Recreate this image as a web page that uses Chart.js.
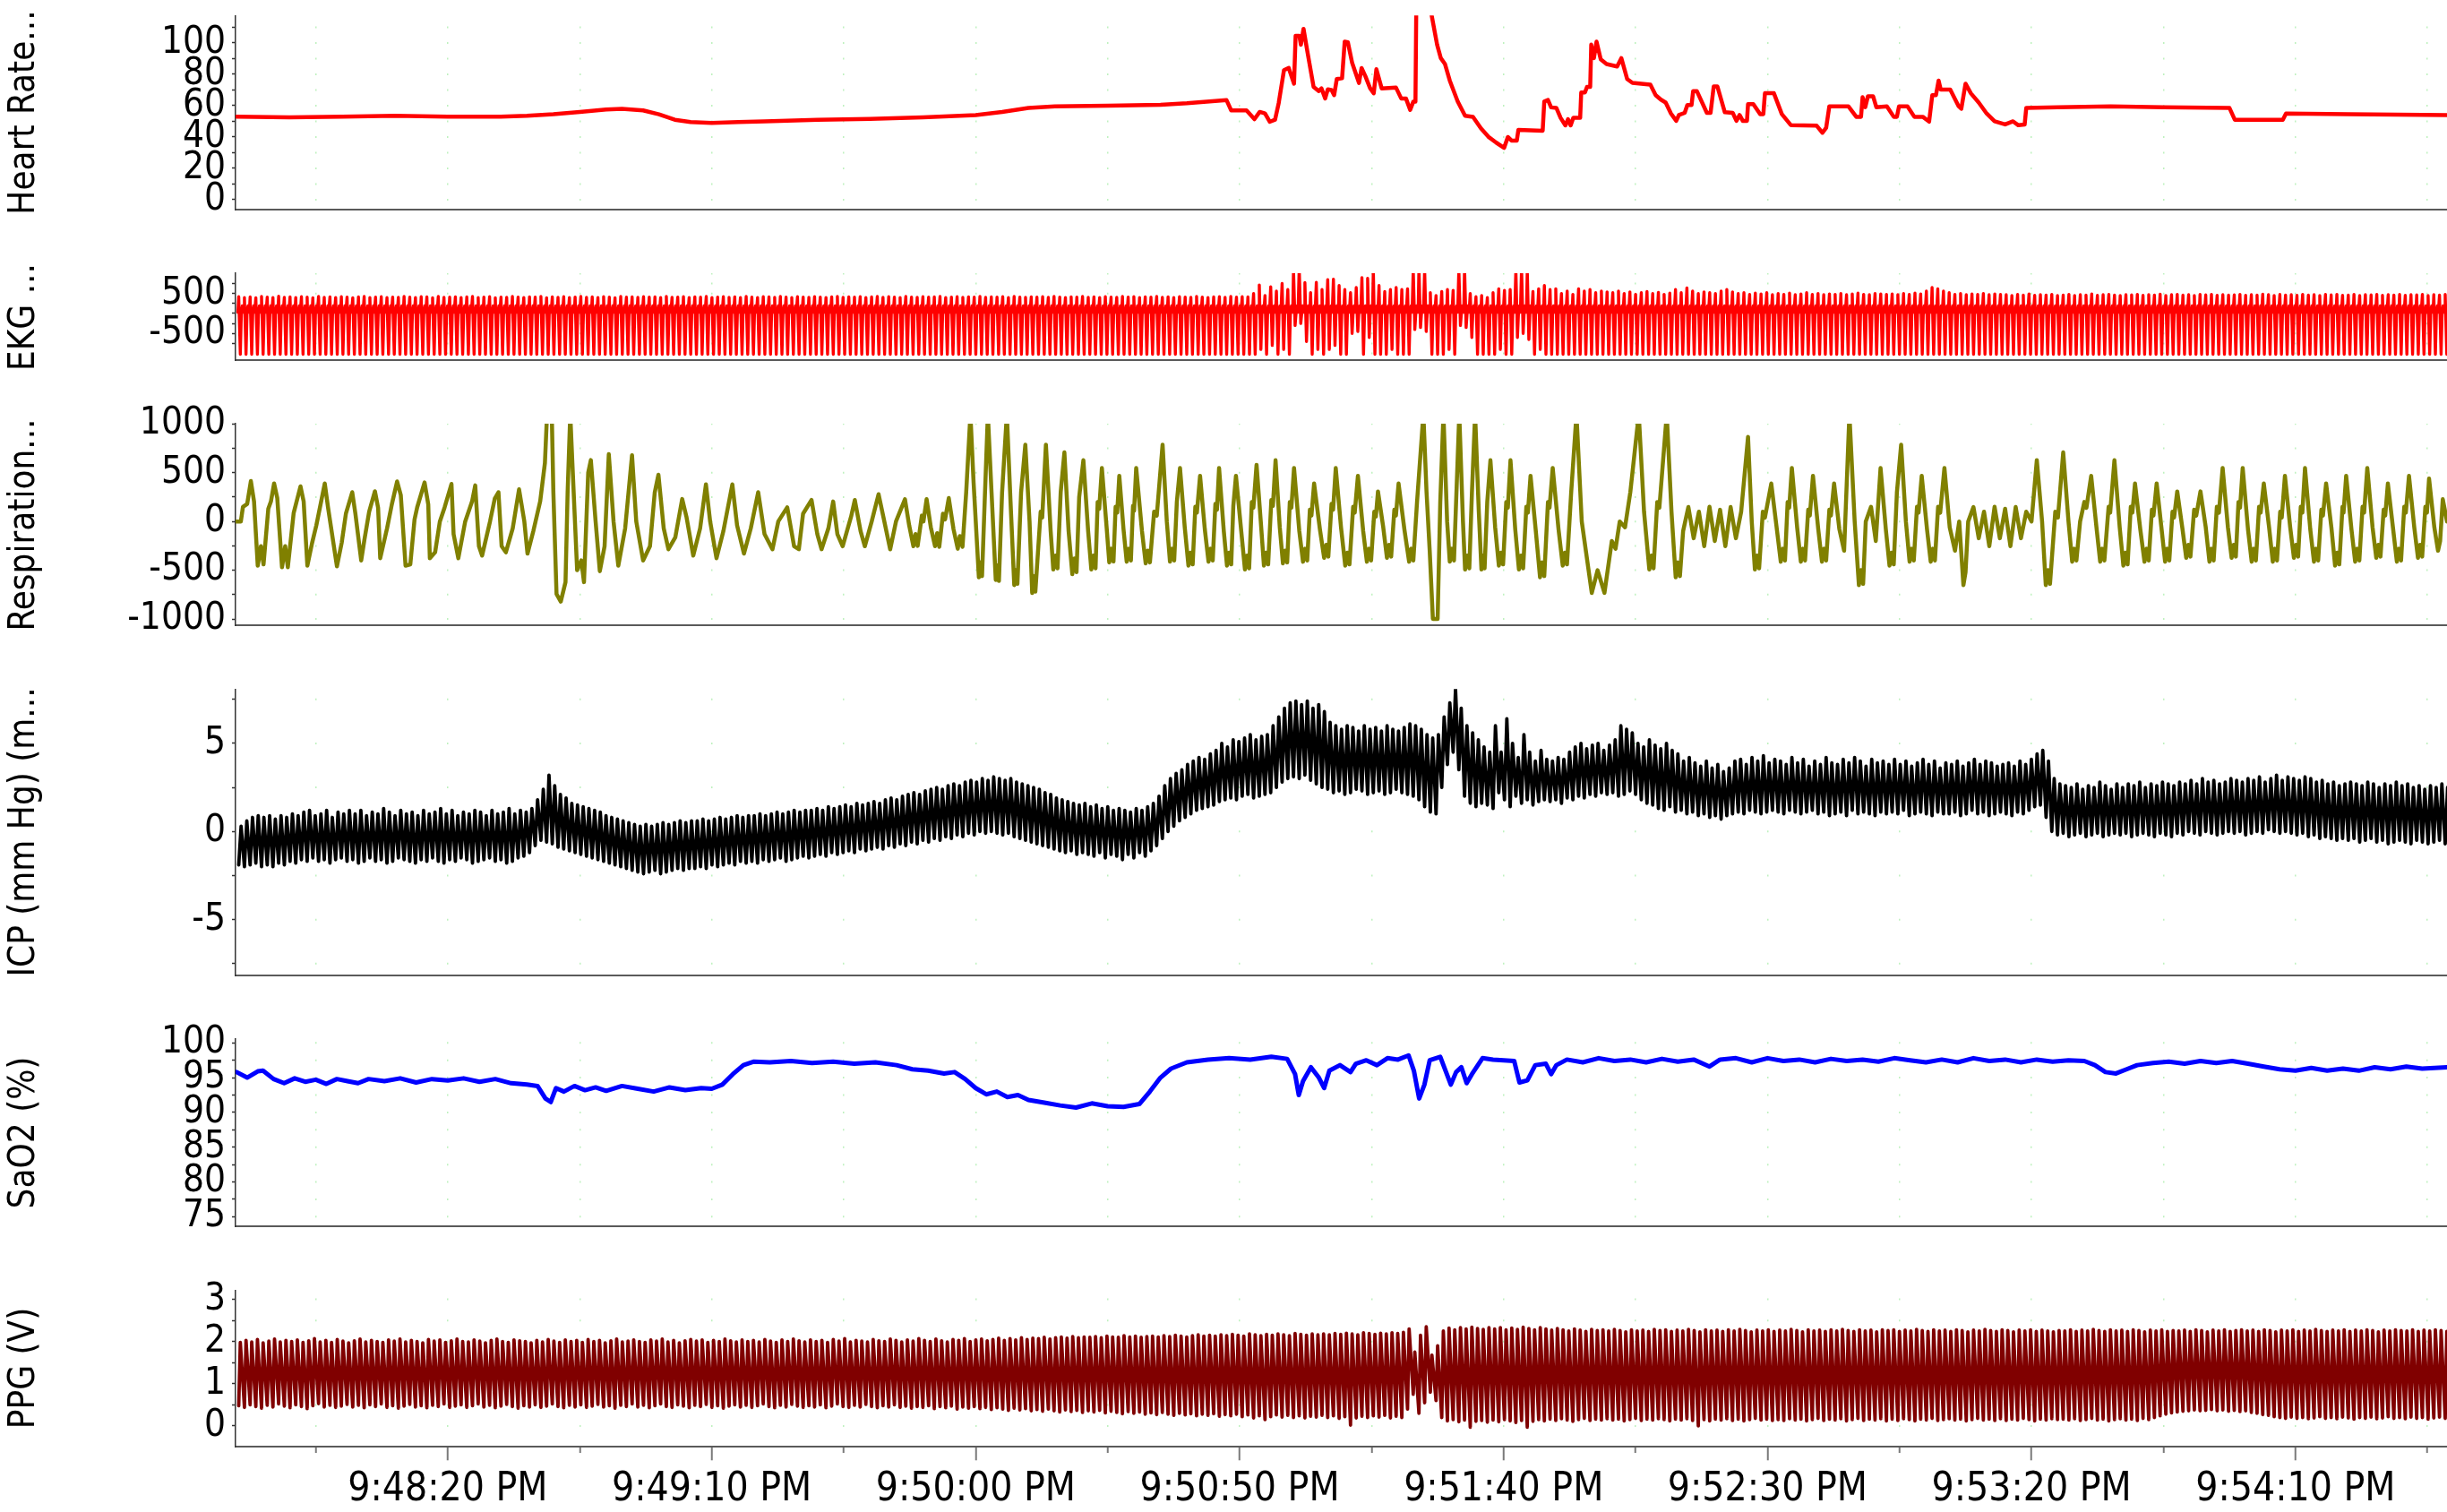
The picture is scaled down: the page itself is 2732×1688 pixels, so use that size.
<!DOCTYPE html>
<html>
<head>
<meta charset="utf-8">
<title>Physiological signals</title>
<script src="https://cdn.jsdelivr.net/npm/chart.js@4.4.1/dist/chart.umd.min.js"></script>
<style>
html, body { margin:0; padding:0; background:#ffffff; }
body { position:relative; width:2732px; height:1688px; overflow:hidden; }
canvas { position:absolute; left:0; }
</style>
</head>
<body>
<script>
// ---------- time axis (seconds after 9:47:40 PM) ----------
const timeLabels = ['9:48:20 PM','9:49:10 PM','9:50:00 PM','9:50:50 PM','9:51:40 PM','9:52:30 PM','9:53:20 PM','9:54:10 PM'];
const majorSeconds = [40, 90, 140, 190, 240, 290, 340, 390];
const minorSeconds = [15, 65, 115, 165, 215, 265, 315, 365, 415];

// ---------- y tick values ----------
const hrMajor = [0, 20, 40, 60, 80, 100], hrMinor = [10, 30, 50, 70, 90, 110];
const ekgMajor = [-500, 500], ekgMinor = [-750, -250, 0, 250, 750];
const respMajor = [-1000, -500, 0, 500, 1000], respMinor = [-750, -250, 250, 750];
const icpMajor = [-5, 0, 5], icpMinor = [-7.5, -2.5, 2.5, 7.5];
const saoMajor = [75, 80, 85, 90, 95, 100], saoMinor = [77.5, 82.5, 87.5, 92.5, 97.5];
const ppgMajor = [0, 1, 2, 3], ppgMinor = [0.5, 1.5, 2.5];

// ---------- Heart rate [s, bpm] ----------
const heartRate = [[0,53],[10,52.5],[20,53],[30,53.5],[40,53],[50,53],[55,53.5],[60,54.5],[65,56],[70,57.5],[73,58],[77,57],[80,54.5],[83,51],[86,49.5],[90,49],[95,49.5],[100,50],[110,51],[120,51.5],[130,52.5],[140,54],[145,56],[150,58.5],[155,59.5],[165,60],[175,60.5],[180,61.5],[187.5,63.6],[188.4,57],[191.3,57],[192.8,51.4],[193.8,56],[194.8,55],[195.7,49.7],[196.7,51],[197.4,61.7],[198.4,82.7],[199.3,84],[200.3,74],[200.6,104.6],[201.3,104.6],[201.6,98.9],[202.1,109],[202.8,95],[204.0,72],[205.0,69.3],[205.5,71],[206.2,64.6],[206.7,70.4],[207.4,70],[207.9,66.7],[208.4,77],[209.4,77.5],[209.9,100.8],[210.5,100.4],[211.3,87.4],[212.6,74.5],[213.1,84],[213.8,78.9],[214.7,71.2],[215.4,67.9],[215.9,83.2],[216.9,71],[219.6,71.6],[220.6,64.6],[221.5,64.6],[222.3,57.3],[222.9,62.6],[223.3,62.6],[223.5,140],[226.0,125],[226.4,117],[227.4,98.9],[228.1,90.3],[228.9,86.5],[229.8,76],[231.3,62.7],[232.7,53.5],[234.2,52.8],[235.7,45.5],[237.1,40.2],[238.6,36.4],[240.1,33.1],[240.8,40],[241.5,37.7],[242.5,37.7],[242.8,44.6],[247.4,44],[247.7,62.6],[248.4,63.6],[249.0,58.9],[250.0,58.5],[250.8,52.2],[251.7,47.4],[252.2,51.4],[252.7,47.4],[253.2,52.2],[254.5,52.2],[254.7,68.4],[255.4,68.4],[255.8,72],[256.4,72],[256.6,98.9],[257.1,90.3],[257.6,100.8],[258.4,89.5],[259.5,86.5],[261.5,85],[262.3,90.3],[263.4,77],[264.4,74.5],[267.8,73.4],[268.8,66.7],[269.8,63.8],[270.7,62],[271.7,55],[272.7,50.3],[273.2,54],[274.3,55.4],[274.8,60.4],[275.6,60.4],[275.9,69.3],[276.6,69.3],[278.5,55.4],[279.2,55.4],[279.8,72.2],[280.5,72.2],[281.9,55.8],[283.4,55.4],[284.1,50.3],[284.7,54],[285.3,50.3],[286.1,50.3],[286.3,61],[287.3,61],[288.6,54.6],[289.2,54.6],[289.5,67.9],[291.2,67.9],[292.7,54.6],[294.4,47.6],[299.3,47.2],[300.4,42.7],[301.1,45.9],[301.7,59.6],[305.3,59.6],[306.8,52.9],[307.7,52.9],[308.0,65.4],[308.5,59],[309.0,65.9],[310.0,65.9],[310.6,59],[312.6,59.6],[313.9,52.9],[314.5,52.9],[314.9,59.6],[316.5,59.6],[317.8,52.9],[319.4,52.9],[320.6,49.8],[321.2,66.7],[321.9,66.7],[322.4,76],[322.8,70.2],[324.6,70.2],[326.2,59.6],[326.7,58],[327.5,74],[328.5,67.9],[330,62],[331.5,55],[333,50],[335,48],[336.5,50],[337.5,47.5],[338.7,48],[339,58.5],[345,59],[355,59.5],[365,59],[377.5,58.5],[378.5,51],[387.6,51],[388.2,55],[400,54.5],[418.7,54]];

// ---------- per-beat values (beats evenly spaced) ----------
const beatStart = 0.4, beatStep = 1.08;
const ekgBaseline = 30, ekgTWave = 190;
const ekgR = [
420,400,415,395,425,410,400,430,405,415, 400,420,410,395,425,405,415,400,420,410,
395,415,425,400,410,420,398,412,405,425, 410,400,420,415,395,425,405,410,418,400,
415,425,400,410,420,395,412,405,425,410, 400,418,410,425,395,415,405,420,400,412,
425,405,415,400,420,410,395,425,408,415, 402,420,410,415,398,425,405,412,420,400,
415,408,425,400,412,420,405,418,398,425, 410,400,420,415,405,425,410,398,420,412,
405,422,410,400,418,425,402,415,410,420, 398,415,425,405,420,410,400,425,412,405,
420,408,415,425,400,412,420,405,418,410, 425,402,415,410,420,398,425,410,405,418,
410,420,405,425,412,400,418,410,425,405, 415,400,422,410,405,425,412,420,400,415,
410,425,405,418,400,420,412,405,425,410, 400,415,420,405,425,410,420,415,500,715,
450,670,560,750,600,1100,1150,775,520,780, 600,850,860,700,600,520,650,900,880,1100,
700,550,600,650,600,620,1100,1150,1100,520, 450,550,600,580,1100,1150,500,420,450,400,
520,620,580,600,1100,1150,1100,550,620,700, 600,620,500,560,480,620,560,600,520,560,
540,520,560,500,540,480,520,550,500,530, 480,510,600,520,640,560,500,540,520,500,
560,600,540,500,520,480,510,490,520,470, 500,480,510,470,490,520,480,500,470,490,
480,500,470,490,510,480,470,500,490,480, 490,470,500,480,510,490,560,650,620,560,
520,480,500,470,490,480,500,470,490,480, 470,450,480,460,490,455,470,460,480,450,
460,480,450,470,460,490,455,470,480,460, 450,470,465,480,455,470,460,485,450,470,
480,460,470,450,475,465,480,455,470,460, 465,480,455,470,460,485,470,450,475,460,
470,455,480,460,470,450,475,465,480,455, 460,475,450,470,465,480,455,470,460,475,
455,470,465,480,450,470,460,475];
const ekgS = [
-1020,-1020,-1020,-1020,-1020,-1020,-1020,-1020,-1020,-1020, -1020,-1020,-1020,-1020,-1020,-1020,-1020,-1020,-1020,-1020,
-1020,-1020,-1020,-1020,-1020,-1020,-1020,-1020,-1020,-1020, -1020,-1020,-1020,-1020,-1020,-1020,-1020,-1020,-1020,-1020,
-1020,-1020,-1020,-1020,-1020,-1020,-1020,-1020,-1020,-1020, -1020,-1020,-1020,-1020,-1020,-1020,-1020,-1020,-1020,-1020,
-1020,-1020,-1020,-1020,-1020,-1020,-1020,-1020,-1020,-1020, -1020,-1020,-1020,-1020,-1020,-1020,-1020,-1020,-1020,-1020,
-1020,-1020,-1020,-1020,-1020,-1020,-1020,-1020,-1020,-1020, -1020,-1020,-1020,-1020,-1020,-1020,-1020,-1020,-1020,-1020,
-1020,-1020,-1020,-1020,-1020,-1020,-1020,-1020,-1020,-1020, -1020,-1020,-1020,-1020,-1020,-1020,-1020,-1020,-1020,-1020,
-1020,-1020,-1020,-1020,-1020,-1020,-1020,-1020,-1020,-1020, -1020,-1020,-1020,-1020,-1020,-1020,-1020,-1020,-1020,-1020,
-1020,-1020,-1020,-1020,-1020,-1020,-1020,-1020,-1020,-1020, -1020,-1020,-1020,-1020,-1020,-1020,-1020,-1020,-1020,-1020,
-1020,-1020,-1020,-1020,-1020,-1020,-1020,-1020,-1020,-1020, -1020,-1020,-1020,-1020,-1020,-1020,-1020,-1020,-1020,-900,
-1020,-800,-1020,-900,-1020,-300,-250,-700,-1020,-900, -1020,-900,-800,-1020,-1020,-500,-450,-1020,-600,-1020,
-1020,-1020,-900,-1020,-1020,-1020,-400,-350,-450,-1020, -1020,-1020,-900,-1020,-300,-350,-600,-1020,-1020,-1020,
-1020,-900,-1020,-1020,-600,-500,-650,-1020,-900,-1020, -1020,-1020,-1020,-1020,-1020,-1020,-1020,-1020,-1020,-1020,
-1020,-1020,-1020,-1020,-1020,-1020,-1020,-1020,-1020,-1020, -1020,-1020,-1020,-1020,-1020,-1020,-1020,-1020,-1020,-1020,
-1020,-1020,-1020,-1020,-1020,-1020,-1020,-1020,-1020,-1020, -1020,-1020,-1020,-1020,-1020,-1020,-1020,-1020,-1020,-1020,
-1020,-1020,-1020,-1020,-1020,-1020,-1020,-1020,-1020,-1020, -1020,-1020,-1020,-1020,-1020,-1020,-1020,-1020,-1020,-1020,
-1020,-1020,-1020,-1020,-1020,-1020,-1020,-1020,-1020,-1020, -1020,-1020,-1020,-1020,-1020,-1020,-1020,-1020,-1020,-1020,
-1020,-1020,-1020,-1020,-1020,-1020,-1020,-1020,-1020,-1020, -1020,-1020,-1020,-1020,-1020,-1020,-1020,-1020,-1020,-1020,
-1020,-1020,-1020,-1020,-1020,-1020,-1020,-1020,-1020,-1020, -1020,-1020,-1020,-1020,-1020,-1020,-1020,-1020,-1020,-1020,
-1020,-1020,-1020,-1020,-1020,-1020,-1020,-1020,-1020,-1020, -1020,-1020,-1020,-1020,-1020,-1020,-1020,-1020,-1020,-1020,
-1020,-1020,-1020,-1020,-1020,-1020,-1020,-1020];

const icpMax = [
0.3,0.6,0.8,0.9,0.8,0.9,0.7,0.9,0.8,1.0, 0.9,1.1,1.2,0.9,1.0,1.2,0.8,1.1,1.0,1.2,
1.0,1.2,0.9,1.1,1.0,1.3,1.1,0.9,1.2,1.0, 1.1,0.9,1.2,1.0,1.1,1.3,1.0,1.2,0.9,1.1,
1.0,1.2,1.1,0.9,1.2,1.0,1.1,1.3,1.0,1.2, 1.1,1.3,1.8,2.4,3.2,2.6,2.1,1.9,1.6,1.5,
1.4,1.3,1.2,1.1,0.9,0.8,0.7,0.6,0.5,0.4, 0.3,0.4,0.3,0.4,0.5,0.4,0.5,0.6,0.5,0.6,
0.6,0.7,0.6,0.7,0.8,0.7,0.8,0.9,0.8,0.9, 0.9,1.0,0.9,1.0,1.1,1.0,1.1,1.2,1.1,1.2,
1.2,1.3,1.2,1.4,1.3,1.4,1.5,1.4,1.6,1.5, 1.6,1.7,1.6,1.8,1.9,1.8,2.0,2.1,2.2,2.1,
2.3,2.4,2.5,2.4,2.6,2.7,2.6,2.8,2.9,2.8, 3.0,2.9,3.1,3.0,2.9,3.0,2.8,2.7,2.6,2.5,
2.4,2.2,2.1,1.9,1.8,1.7,1.6,1.5,1.6,1.4, 1.5,1.3,1.4,1.2,1.3,1.2,1.1,1.3,1.2,1.4,
1.6,2.0,2.6,3.0,3.3,3.5,3.8,4.0,4.2,4.1, 4.4,4.6,5.0,4.8,5.2,5.1,5.3,5.5,5.2,5.4,
5.5,6.0,6.5,7.0,7.3,7.4,7.2,7.4,7.0,7.2, 6.8,6.2,6.0,5.8,6.0,5.9,5.7,6.0,5.8,5.9,
5.7,6.0,5.8,5.7,5.9,6.1,6.0,5.8,5.5,5.3, 5.5,6.5,7.3,8.1,7.0,6.0,5.6,5.2,4.8,4.5,
6.0,4.5,6.4,5.0,4.2,5.5,4.5,4.0,4.6,4.1, 4.0,4.2,4.1,4.5,4.8,5.0,4.7,4.9,5.0,4.6,
4.9,5.2,6.0,5.8,5.6,5.0,4.8,5.2,4.9,4.7, 5.0,4.6,4.4,4.0,4.2,3.9,3.7,4.0,3.6,3.8,
3.4,3.6,4.0,4.1,3.8,4.2,4.0,4.3,3.9,4.1, 4.0,3.8,4.2,3.9,4.1,3.7,4.0,3.8,4.2,3.9,
3.8,4.1,3.9,4.2,4.0,3.7,4.1,3.9,4.0,3.8, 4.1,3.8,4.0,3.7,3.9,4.1,3.8,4.0,3.6,3.9,
3.8,4.0,3.7,3.9,4.1,3.8,4.0,3.9,3.7,3.8, 3.9,3.7,4.0,3.8,4.1,4.4,4.6,4.0,3.0,2.7,
2.6,2.5,2.7,2.4,2.6,2.5,2.8,2.6,2.4,2.7, 2.5,2.7,2.6,2.8,2.5,2.7,2.6,2.8,2.7,2.6,
2.8,2.7,2.9,2.7,3.0,2.8,2.9,2.7,2.8,3.0, 2.9,2.8,3.0,2.9,3.1,2.8,3.0,3.2,2.9,3.1,
3.0,2.9,3.1,3.0,2.8,2.9,2.7,2.8,2.6,2.7, 2.8,2.7,2.6,2.8,2.7,2.5,2.7,2.6,2.8,2.6,
2.7,2.5,2.6,2.4,2.6,2.5,2.7,2.5];
const icpMin = [
-1.9,-2.0,-1.9,-1.8,-2.0,-1.9,-2.0,-1.8,-1.9,-1.7, -1.8,-1.6,-1.7,-1.5,-1.7,-1.6,-1.8,-1.6,-1.5,-1.7,
-1.6,-1.8,-1.7,-1.5,-1.7,-1.6,-1.8,-1.7,-1.5,-1.6, -1.7,-1.8,-1.6,-1.7,-1.5,-1.7,-1.8,-1.6,-1.7,-1.5,
-1.6,-1.8,-1.7,-1.6,-1.5,-1.7,-1.6,-1.8,-1.7,-1.5, -1.4,-1.2,-0.8,-0.5,-0.6,-0.7,-0.9,-1.0,-1.1,-1.2,
-1.3,-1.4,-1.5,-1.6,-1.7,-1.8,-1.9,-2.0,-2.1,-2.2, -2.3,-2.4,-2.3,-2.2,-2.4,-2.3,-2.2,-2.1,-2.2,-2.1,
-2.1,-2.0,-2.1,-1.9,-2.0,-1.9,-1.8,-1.9,-1.7,-1.8, -1.7,-1.8,-1.6,-1.7,-1.6,-1.5,-1.7,-1.6,-1.5,-1.4,
-1.5,-1.4,-1.3,-1.4,-1.2,-1.3,-1.2,-1.1,-1.2,-1.0, -1.1,-1.0,-0.9,-1.0,-0.8,-0.9,-0.7,-0.8,-0.6,-0.7,
-0.5,-0.6,-0.4,-0.5,-0.3,-0.4,-0.2,-0.3,-0.1,-0.2, 0.0,-0.1,0.0,-0.1,-0.2,-0.1,-0.3,-0.4,-0.5,-0.6,
-0.7,-0.8,-0.9,-1.0,-1.1,-1.2,-1.1,-1.3,-1.2,-1.3, -1.4,-1.2,-1.5,-1.3,-1.4,-1.6,-1.3,-1.5,-1.2,-1.4,
-1.1,-0.8,-0.4,0.0,0.3,0.6,0.8,1.0,1.2,1.3, 1.4,1.5,1.7,1.8,1.9,1.8,2.0,2.1,1.9,2.0,
2.1,2.2,2.5,2.8,3.0,3.1,3.0,3.2,2.9,2.7, 2.5,2.4,2.2,2.3,2.1,2.2,2.4,2.3,2.1,2.2,
2.3,2.1,2.2,2.4,2.2,2.1,2.0,1.8,1.4,1.1, 1.0,2.5,3.8,4.5,3.5,2.0,1.6,1.4,1.6,1.5,
1.3,2.2,1.8,1.4,2.0,1.6,1.8,1.5,1.7,1.8, 1.7,1.8,1.6,1.9,1.8,2.0,1.9,2.1,2.0,2.2,
2.1,2.2,2.0,2.1,2.3,2.1,1.8,1.6,1.5,1.3, 1.2,1.4,1.1,1.2,1.0,1.1,0.9,1.0,0.8,0.9,
0.7,0.9,1.0,1.1,1.0,1.2,1.1,1.0,1.1,1.2, 1.1,1.0,1.2,1.1,1.0,1.1,1.2,1.0,1.1,0.9,
1.0,1.1,0.9,1.2,1.0,1.1,1.0,0.9,1.1,1.0, 1.1,1.0,1.2,0.9,1.0,1.1,1.0,0.9,1.1,1.0,
1.0,1.1,0.9,1.0,1.2,1.0,1.1,0.9,1.0,1.1, 1.0,0.9,1.1,1.0,1.2,1.4,1.5,0.8,0.0,-0.2,
-0.1,-0.3,-0.2,-0.1,-0.3,-0.2,-0.1,-0.3,-0.2,-0.1, -0.2,-0.1,-0.3,-0.2,-0.1,-0.2,-0.3,-0.1,-0.2,-0.3,
-0.1,-0.2,0.0,-0.1,-0.2,0.0,-0.1,-0.2,-0.1,0.0, -0.1,0.0,-0.2,-0.1,0.0,-0.1,0.1,0.0,-0.1,0.0,
-0.1,-0.2,-0.1,-0.3,-0.2,-0.4,-0.3,-0.4,-0.5,-0.4, -0.5,-0.4,-0.6,-0.5,-0.4,-0.6,-0.5,-0.7,-0.6,-0.5,
-0.6,-0.7,-0.5,-0.6,-0.7,-0.6,-0.5,-0.7];

const ppgMax = [
1.98,2.03,1.99,2.05,1.97,2.01,2.06,1.99,2.03,2.00, 2.04,1.98,2.02,2.07,1.99,2.03,1.98,2.05,2.01,1.97,
2.02,2.06,1.99,2.03,2.00,1.98,2.04,2.01,2.06,1.99, 2.03,2.00,1.97,2.05,2.01,2.04,1.98,2.02,2.06,2.00,
1.99,2.04,2.01,1.97,2.03,2.06,2.00,1.98,2.04,2.02, 2.00,1.97,2.03,1.99,2.05,2.01,1.98,2.04,2.00,2.03,
1.98,2.05,2.00,2.03,1.97,2.02,2.06,1.99,2.01,2.04, 2.00,1.98,2.04,2.01,2.06,1.99,2.03,1.97,2.02,2.05,
2.01,2.04,1.98,2.03,2.00,2.06,2.02,1.99,2.04,2.00, 2.03,1.99,2.05,2.01,1.98,2.04,2.00,2.06,2.02,1.99,
2.04,2.00,2.03,1.98,2.05,2.01,2.07,1.99,2.03,2.01, 1.99,2.05,2.02,2.00,2.06,2.03,1.99,2.04,2.01,2.07,
2.03,2.00,2.06,2.02,1.99,2.05,2.03,2.07,2.00,2.04, 2.06,2.02,2.05,2.08,2.03,2.07,2.04,2.09,2.05,2.08,
2.07,2.10,2.06,2.09,2.11,2.08,2.12,2.09,2.11,2.10, 2.12,2.09,2.13,2.11,2.10,2.14,2.11,2.13,2.10,2.12,
2.13,2.11,2.14,2.12,2.15,2.13,2.11,2.14,2.16,2.13, 2.15,2.13,2.16,2.14,2.17,2.15,2.13,2.18,2.16,2.14,
2.17,2.15,2.18,2.16,2.14,2.19,2.17,2.15,2.18,2.16, 2.18,2.16,2.19,2.17,2.20,2.18,2.16,2.21,2.19,2.17,
2.20,2.18,2.21,2.19,2.22,2.30,1.75,2.15,2.35,1.68, 1.90,2.25,2.32,2.28,2.33,2.30,2.34,2.31,2.29,2.33,
2.30,2.33,2.28,2.32,2.29,2.34,2.31,2.28,2.33,2.30, 2.27,2.31,2.28,2.25,2.30,2.27,2.24,2.29,2.26,2.28,
2.25,2.29,2.26,2.23,2.28,2.25,2.27,2.24,2.29,2.26, 2.28,2.24,2.27,2.25,2.29,2.26,2.23,2.28,2.25,2.27,
2.24,2.28,2.25,2.29,2.26,2.23,2.27,2.25,2.28,2.24, 2.27,2.25,2.29,2.26,2.23,2.28,2.25,2.27,2.24,2.28,
2.25,2.29,2.26,2.24,2.28,2.25,2.27,2.23,2.28,2.26, 2.28,2.24,2.27,2.25,2.29,2.26,2.24,2.28,2.25,2.27,
2.24,2.28,2.26,2.23,2.27,2.25,2.29,2.26,2.24,2.28, 2.26,2.23,2.27,2.25,2.28,2.24,2.27,2.25,2.23,2.26,
2.25,2.28,2.24,2.27,2.25,2.29,2.26,2.24,2.28,2.25, 2.27,2.24,2.28,2.26,2.23,2.27,2.25,2.28,2.24,2.26,
2.25,2.27,2.24,2.28,2.26,2.23,2.27,2.25,2.28,2.24, 2.26,2.28,2.25,2.27,2.24,2.28,2.26,2.23,2.27,2.25,
2.28,2.24,2.27,2.25,2.29,2.26,2.24,2.27,2.25,2.28, 2.24,2.27,2.25,2.28,2.26,2.23,2.27,2.25,2.28,2.26,
2.25,2.28,2.24,2.27,2.25,2.28,2.26,2.24];
const ppgMin = [
0.48,0.44,0.50,0.46,0.42,0.49,0.45,0.52,0.47,0.43, 0.50,0.46,0.41,0.48,0.53,0.45,0.49,0.44,0.47,0.51,
0.45,0.49,0.43,0.50,0.46,0.52,0.44,0.48,0.42,0.47, 0.51,0.45,0.48,0.43,0.49,0.46,0.52,0.44,0.47,0.50,
0.44,0.48,0.52,0.45,0.49,0.43,0.47,0.51,0.46,0.42, 0.48,0.45,0.50,0.44,0.47,0.52,0.46,0.43,0.49,0.45,
0.50,0.44,0.47,0.51,0.45,0.48,0.42,0.49,0.46,0.52, 0.45,0.49,0.43,0.48,0.52,0.46,0.44,0.50,0.47,0.43,
0.49,0.46,0.51,0.44,0.48,0.42,0.47,0.50,0.45,0.49, 0.44,0.48,0.52,0.46,0.43,0.49,0.45,0.51,0.47,0.44,
0.48,0.45,0.50,0.43,0.47,0.52,0.46,0.44,0.49,0.45, 0.51,0.46,0.43,0.48,0.45,0.50,0.44,0.47,0.42,0.46,
0.44,0.48,0.41,0.46,0.43,0.47,0.40,0.45,0.42,0.46, 0.41,0.44,0.39,0.43,0.40,0.37,0.42,0.38,0.41,0.36,
0.39,0.35,0.40,0.36,0.33,0.38,0.34,0.37,0.32,0.36, 0.33,0.37,0.31,0.35,0.32,0.29,0.34,0.30,0.33,0.28,
0.31,0.27,0.32,0.28,0.25,0.30,0.26,0.29,0.24,0.28, 0.25,0.29,0.23,0.27,0.24,0.28,0.22,0.26,0.19,0.24,
0.15,0.22,0.26,0.21,0.25,0.20,0.24,0.19,0.23,0.21, 0.25,0.20,0.24,0.18,0.22,0.02,0.19,0.23,0.20,0.24,
0.21,0.25,0.19,0.23,0.20,0.40,0.75,0.30,0.55,0.80, 0.60,0.20,0.12,0.15,0.10,0.14,-0.03,0.11,0.13,0.09,
0.14,0.10,0.15,0.12,0.08,0.13,-0.03,0.11,0.15,0.12, 0.16,0.13,0.17,0.14,0.11,0.15,0.18,0.13,0.16,0.14,
0.17,0.14,0.16,0.12,0.15,0.18,0.13,0.16,0.14,0.17, 0.15,0.12,0.16,0.14,0.17,0.13,0.00,0.15,0.12,0.16,
0.14,0.17,0.13,0.16,0.12,0.15,0.18,0.14,0.16,0.13, 0.15,0.13,0.17,0.14,0.16,0.12,0.15,0.18,0.13,0.16,
0.14,0.17,0.12,0.15,0.18,0.13,0.16,0.14,0.17,0.12, 0.16,0.13,0.17,0.15,0.12,0.16,0.14,0.18,0.13,0.15,
0.17,0.14,0.16,0.12,0.15,0.18,0.14,0.16,0.13,0.17, 0.13,0.16,0.14,0.18,0.15,0.12,0.16,0.14,0.17,0.15,
0.16,0.14,0.17,0.13,0.15,0.18,0.14,0.16,0.12,0.15, 0.17,0.14,0.16,0.13,0.18,0.15,0.20,0.24,0.28,0.31,
0.33,0.35,0.36,0.38,0.36,0.37,0.39,0.36,0.38,0.35, 0.37,0.34,0.36,0.32,0.30,0.27,0.25,0.22,0.20,0.18,
0.21,0.18,0.20,0.17,0.19,0.22,0.18,0.20,0.17,0.21, 0.19,0.16,0.20,0.18,0.21,0.17,0.19,0.22,0.18,0.20,
0.17,0.21,0.18,0.20,0.16,0.19,0.21,0.18];

// ---------- Respiration [s, value] ----------
const respiration = [[0,0],[0.8,0],[1.2,150],[2.0,180],[2.7,415],[3.3,205],[4.0,-454],[4.6,-254],[5.1,-440],[6.0,130],[6.5,205],[7.1,390],[7.7,240],[8.6,-470],[9.2,-254],[9.7,-470],[10.8,85],[12.1,360],[12.7,205],[13.4,-454],[14.3,-220],[15.1,-40],[16.7,390],[17.3,150],[19.0,-460],[19.9,-220],[20.7,80],[21.9,300],[22.5,80],[23.6,-400],[24.2,-190],[25.1,100],[26.2,310],[26.8,140],[27.2,-377],[28.5,-70],[29.4,175],[30.4,410],[31.1,270],[32.0,-454],[32.9,-440],[33.7,20],[34.2,144],[35.6,400],[36.3,175],[36.6,-377],[37.6,-316],[38.5,0],[39.4,144],[40.7,385],[41.1,-130],[42.0,-377],[43.3,0],[44.6,205],[45.2,370],[45.9,-254],[46.5,-350],[48.0,0],[48.9,235],[49.6,300],[50.2,-254],[51.0,-316],[52.3,-70],[53.5,330],[54.5,0],[55.1,-330],[56.2,-100],[57.5,205],[58.4,600],[58.8,1100],[59.7,1100],[60.0,300],[60.6,-745],[61.4,-822],[62.3,-622],[62.7,300],[63.2,1100],[63.6,600],[64.5,-500],[65.3,-400],[65.8,-622],[66.6,500],[67.1,630],[68.0,0],[68.8,-510],[69.7,-254],[70.5,690],[71.4,0],[72.3,-454],[73.6,-70],[74.9,680],[75.7,0],[77.0,-400],[78.3,-254],[79.2,297],[79.9,480],[80.9,-70],[81.8,-285],[83.1,-163],[84.4,230],[85.2,50],[86.5,-350],[87.8,-70],[88.9,380],[89.7,0],[90.9,-377],[92.2,-100],[93.9,380],[94.8,-40],[96.1,-330],[97.4,-70],[98.8,300],[100.0,-130],[101.5,-285],[102.6,0],[104.3,145],[105.6,-254],[106.5,-285],[107.3,80],[108.9,220],[110.0,-130],[110.8,-285],[112.1,-70],[113.0,205],[113.8,-130],[114.8,-254],[116.4,50],[117.1,220],[118.2,-100],[119.0,-254],[120.3,0],[121.6,280],[122.5,50],[123.8,-285],[124.9,0],
[126.6,228],[127.4,-40],[128.2,-253],[128.6,-130],[129.0,-250],[129.8,60],[130.1,0],[130.7,228],
[131.5,-60],[132.3,-253],[132.7,-120],[133.1,-260],[133.8,80],[134.2,20],[134.9,240],
[135.8,-80],[136.6,-280],[137.0,-150],[137.5,-260],[138.2,300],[139.0,1100],[139.6,400],
[140.6,-573],[140.9,-420],[141.2,-560],[141.7,200],[142.3,1100],[143.0,300],
[143.8,-600],[144.1,-450],[144.4,-610],[145.0,300],[145.9,1100],[146.6,200],
[147.3,-653],[147.6,-500],[147.9,-640],[148.6,300],[149.4,788],[150.2,0],
[150.7,-733],[151.0,-560],[151.3,-720],[152.3,100],[152.6,40],[153.3,788],[154.2,-100],
[154.7,-493],[155.1,-350],[155.5,-480],[156.1,300],[156.8,708],[157.6,-100],
[158.3,-540],[158.7,-380],[159.1,-520],[159.6,250],[160.4,628],[161.3,-100],
[161.9,-493],[162.3,-350],[162.7,-480],[163.1,200],[163.4,130],[163.9,548],[164.8,-60],
[165.3,-420],[165.7,-280],[166.1,-410],[166.5,150],[166.8,90],[167.2,468],[168.0,-80],
[168.6,-413],[169.0,-280],[169.4,-400],[169.8,160],[170.0,110],[170.4,548],[171.5,-100],
[172.2,-430],[172.6,-300],[173.0,-420],[173.8,100],[174.3,60],[175.4,788],[176.2,0],
[176.8,-413],[177.2,-280],[177.6,-400],[178.1,200],[178.7,548],[179.6,-60],
[180.3,-453],[180.7,-320],[181.1,-440],[181.6,150],[181.9,90],[182.5,468],[183.4,-80],
[184.1,-413],[184.5,-280],[184.9,-400],[185.4,180],[185.7,120],[186.1,548],[187.0,-100],
[187.6,-453],[188.0,-320],[188.4,-440],[188.8,160],[189.3,468],[190.3,-100],
[191.0,-493],[191.4,-350],[191.8,-480],[192.3,200],[192.6,140],[193.2,580],[194.0,0],
[194.6,-453],[195.0,-320],[195.4,-440],[196.0,220],[196.3,160],[196.8,628],[197.6,-60],
[198.2,-430],[198.6,-300],[199.0,-420],[199.5,200],[199.8,140],[200.3,548],[201.3,-100],
[202.0,-413],[202.4,-280],[202.8,-400],[203.3,120],[203.6,60],[204.1,389],[205.2,-80],
[206.0,-373],[206.4,-240],[206.8,-360],[207.4,180],[207.7,120],[208.2,548],[209.2,-60],
[210.0,-453],[210.4,-320],[210.8,-440],[211.5,150],[211.8,90],[212.4,468],[213.4,-100],
[214.1,-413],[214.5,-280],[214.9,-400],[215.5,100],[215.8,50],[216.2,308],[217.2,-60],
[217.9,-373],[218.3,-240],[218.7,-360],[219.3,120],[219.6,60],[220.1,389],[221.2,-80],
[222.1,-413],[222.5,-280],[222.9,-400],[223.6,200],[224.8,1100],[225.4,300],[226.0,-300],[226.6,-1000],[227.5,-1000],[228.0,200],[228.6,1100],[229.3,0],
[229.8,-413],[230.2,-280],[230.6,-400],[231.0,200],[231.6,1100],[232.3,0],
[232.7,-493],[233.1,-350],[233.5,-480],[234.0,300],[234.6,1100],[235.3,100],
[235.8,-493],[236.1,-350],[236.4,-480],[236.9,200],[237.5,628],[238.4,-60],
[239.1,-453],[239.5,-320],[239.9,-440],[240.5,200],[240.8,140],[241.3,628],[242.2,-80],
[242.9,-493],[243.3,-350],[243.7,-480],[244.3,150],[244.6,90],[245.1,468],[246.1,-100],
[246.9,-573],[247.3,-420],[247.7,-560],[248.4,200],[248.7,140],[249.3,548],[250.4,-80],
[251.2,-453],[251.6,-320],[252.0,-440],[252.8,300],[253.8,1100],[254.8,0],
[256.7,-733],[257.8,-500],[259.1,-733],[260.5,-200],[261.2,-280],[262.0,0],[263.0,-60],[264.0,300],[265.6,1100],[266.6,100],
[267.6,-493],[268.0,-350],[268.4,-480],[269.1,200],[269.5,140],[270.9,1100],[271.8,100],
[272.6,-573],[273.0,-420],[273.4,-560],[274.0,-100],[275.0,148],[276.0,-172],[277.0,100],[278.0,-253],[279.0,150],[280.0,-200],[281.0,120],[282.0,-253],[283.0,148],[284.0,-172],[285.0,100],[286.3,868],[287.0,0],
[287.6,-493],[288.0,-350],[288.4,-480],[289.1,100],[289.5,40],[290.7,389],[291.8,-100],
[292.5,-413],[292.9,-280],[293.3,-400],[293.8,200],[294.1,140],[294.6,548],[295.6,-60],
[296.3,-413],[296.7,-280],[297.1,-400],[297.7,120],[298.0,60],[298.6,468],[299.6,-80],
[300.3,-413],[300.7,-280],[301.1,-400],[301.7,120],[302.0,60],[302.6,389],[303.6,-80],
[304.5,-300],[305.5,1100],[306.5,0],
[307.3,-653],[307.7,-500],[308.1,-640],[308.6,0],[309.6,150],[310.5,-200],[311.4,548],[312.4,-80],
[313.1,-453],[313.5,-320],[313.9,-440],[314.5,300],[315.3,788],[316.2,0],
[316.9,-413],[317.3,-280],[317.7,-400],[318.3,150],[318.6,90],[319.2,468],[320.2,-80],
[320.9,-413],[321.3,-280],[321.7,-400],[322.3,150],[322.7,90],[323.5,548],[324.5,-60],
[325.5,-300],[326.3,0],[327.1,-653],[327.5,-520],[328.0,0],[329.0,148],[330.0,-172],[331.0,100],[332.0,-253],[333.0,150],[334.0,-172],[335.0,130],[336.0,-253],[337.0,148],[338.0,-172],[339.0,100],[340.0,0],[341.0,628],[342.0,0],
[342.7,-653],[343.1,-500],[343.5,-640],[344.5,100],[345.0,40],[346.0,708],[347.0,0],
[347.7,-413],[348.1,-280],[348.5,-400],[349.2,0],[350.0,200],[350.4,140],[351.3,468],[352.3,-60],
[353.0,-413],[353.4,-280],[353.8,-400],[354.6,150],[354.9,90],[355.7,628],[356.7,-60],
[357.4,-453],[357.8,-320],[358.2,-440],[358.8,150],[359.1,90],[359.6,389],[360.6,-80],
[361.4,-413],[361.8,-280],[362.2,-400],[362.8,120],[363.1,60],[363.7,389],[364.6,-60],
[365.3,-413],[365.7,-280],[366.1,-400],[366.7,100],[367.0,40],[367.6,308],[368.6,-80],
[369.3,-373],[369.7,-240],[370.1,-360],[370.8,120],[371.2,60],[372.0,308],[373.0,-60],
[373.7,-413],[374.1,-280],[374.5,-400],[375.1,150],[375.5,90],[376.2,548],[377.2,-60],
[377.9,-373],[378.3,-240],[378.7,-360],[379.2,200],[379.5,140],[380.0,548],[381.0,-80],
[381.7,-413],[382.1,-280],[382.5,-400],[383.1,150],[383.4,90],[384.0,389],[385.0,-60],
[385.7,-413],[386.1,-280],[386.5,-400],[387.1,100],[387.4,40],[388.0,468],[389.0,-60],
[389.7,-373],[390.1,-240],[390.5,-360],[391.0,150],[391.3,90],[391.8,548],[392.8,-80],
[393.5,-413],[393.9,-280],[394.3,-400],[394.9,120],[395.2,60],[395.8,389],[396.8,-60],
[397.5,-453],[397.9,-320],[398.3,-440],[398.9,150],[399.1,90],[399.6,468],[400.6,-80],
[401.3,-413],[401.7,-280],[402.1,-400],[402.7,150],[403.0,90],[403.6,548],[404.6,-60],
[405.3,-373],[405.7,-240],[406.1,-360],[406.7,120],[407.0,60],[407.5,389],[408.5,-80],
[409.2,-413],[409.6,-280],[410.0,-400],[410.6,150],[410.9,90],[411.5,468],[412.5,-60],
[413.2,-373],[413.6,-240],[414.0,-360],[414.6,150],[414.9,90],[415.3,440],[416.3,-60],
[417.0,-300],[417.4,-200],[417.9,228],[418.7,0]];

// ---------- SaO2 [s, %] ----------
const sao2 = [[0,95.8],[2,95.0],[4,95.9],[5,96.0],[7,94.8],[9,94.2],[11,94.9],[13,94.4],[15,94.7],[17,94.1],[19,94.8],[21,94.5],[23,94.2],[25,94.8],[28,94.5],[31,94.9],[34,94.3],[37,94.8],[40,94.6],[43,94.9],[46,94.4],[49,94.8],[52,94.2],[55,94.0],[57,93.8],[58.5,92.0],[59.5,91.5],[60.5,93.5],[62,93.0],[64,93.8],[66,93.2],[68,93.6],[70,93.1],[73,93.8],[76,93.4],[79,93.0],[82,93.6],[85,93.2],[88,93.5],[90,93.4],[92,94.0],[94,95.5],[96,96.8],[98,97.3],[101,97.2],[105,97.4],[109,97.1],[113,97.3],[117,97.0],[121,97.2],[125,96.8],[128,96.2],[131,96.0],[134,95.6],[136,95.8],[138,94.8],[140,93.5],[142,92.6],[144,93.0],[146,92.2],[148,92.5],[150,91.8],[153,91.4],[156,91.0],[159,90.7],[162,91.3],[165,90.9],[168,90.8],[171,91.2],[173,93.0],[175,95.0],[177,96.3],[180,97.2],[184,97.6],[188,97.8],[192,97.6],[196,98.0],[199,97.7],[200.5,95.5],[201.2,92.5],[202,94.5],[203.5,96.5],[205,95.0],[206,93.5],[207,96.0],[209,96.8],[211,95.8],[212,97.0],[214,97.5],[216,96.8],[218,97.8],[220,97.6],[222,98.2],[223,96.0],[224,92.0],[225,94.0],[226,97.5],[228,98.0],[229,96.0],[230,94.0],[231,95.8],[232,96.5],[233,94.2],[234,95.5],[236,97.8],[238,97.6],[240,97.5],[242,97.4],[243,94.3],[244.5,94.6],[246,96.8],[248,97.0],[249,95.5],[250,96.8],[252,97.6],[255,97.2],[258,97.8],[261,97.4],[264,97.6],[267,97.2],[270,97.7],[273,97.3],[276,97.6],[279,96.6],[281,97.6],[284,97.8],[287,97.2],[290,97.8],[293,97.4],[296,97.6],[299,97.2],[302,97.7],[305,97.4],[308,97.6],[311,97.3],[314,97.8],[317,97.5],[320,97.2],[323,97.6],[326,97.2],[329,97.8],[332,97.4],[335,97.6],[338,97.2],[341,97.6],[344,97.3],[347,97.5],[350,97.4],[352,96.8],[354,95.8],[356,95.6],[358,96.2],[360,96.8],[363,97.1],[366,97.3],[369,97.0],[372,97.4],[375,97.1],[378,97.4],[381,97.0],[384,96.6],[387,96.2],[390,96.0],[393,96.4],[396,96.0],[399,96.3],[402,96.0],[405,96.5],[408,96.2],[411,96.6],[414,96.3],[418.7,96.5]];

// ---------- build point lists ----------
const pairsToPoints = (arr) => arr.map(([x, y]) => ({x, y}));
const hrPoints = pairsToPoints(heartRate);
const respPoints = pairsToPoints(respiration);
const saoPoints = pairsToPoints(sao2);
const ekgPoints = [], icpPoints = [], ppgPoints = [];
ekgR.forEach((r, i) => {
  const t = beatStart + i * beatStep;
  ekgPoints.push({x: t - 0.15, y: ekgBaseline}, {x: t, y: r}, {x: t + 0.3, y: ekgS[i]},
                 {x: t + 0.5, y: ekgBaseline}, {x: t + 0.68, y: ekgTWave}, {x: t + 0.86, y: ekgBaseline});
});
icpMax.forEach((mx, i) => {
  const t = beatStart + i * beatStep;
  icpPoints.push({x: t, y: icpMin[i]}, {x: t + 0.45, y: mx});
});
ppgMax.forEach((mx, i) => {
  const t = beatStart + i * beatStep;
  ppgPoints.push({x: t, y: ppgMin[i]}, {x: t + 0.3, y: mx});
});

// ---------- layout ----------
const FONT = "'DejaVu Sans Condensed', 'DejaVu Sans', sans-serif";
const X_MIN = -0.2, X_MAX = 418.7;
const PAGE_W = 2732, PAGE_H = 1688, PLOT_LEFT = 263, TITLE_BOX = 52, MARGIN = 73;

const panels = [
  {title: 'Heart Rate...', top: 17.3, bottom: 234, min: -6.3, max: 117.5, major: hrMajor, minor: hrMinor, color: '#ff0000', width: 4.5, points: hrPoints},
  {title: 'EKG ...', top: 305, bottom: 402.3, min: -1173, max: 1009, major: ekgMajor, minor: ekgMinor, color: '#ff0000', width: 3.4, points: ekgPoints},
  {title: 'Respiration...', top: 473, bottom: 698.3, min: -1067, max: 1003, major: respMajor, minor: respMinor, color: '#808000', width: 4.5, points: respPoints},
  {title: 'ICP (mm Hg) (m...', top: 769.3, bottom: 1089, min: -8.17, max: 8.08, major: icpMajor, minor: icpMinor, color: '#000000', width: 3.8, points: icpPoints},
  {title: 'SaO2 (%)', top: 1159.3, bottom: 1369.3, min: 73.59, max: 100.64, major: saoMajor, minor: saoMinor, color: '#0000ff', width: 5, points: saoPoints},
  {title: 'PPG (V)', top: 1440.7, bottom: 1615.3, min: -0.495, max: 3.21, major: ppgMajor, minor: ppgMinor, color: '#800000', width: 3.8, points: ppgPoints}
];

const allXTicks = majorSeconds.concat(minorSeconds).sort((a, b) => a - b);

function gridDots(ctx) {
  const ch = ctx.chart, y = ch.scales && ch.scales.y;
  if (!y || !ch.chartArea || !y.ticks || y.ticks.length < 2) return {L: 20, off: 0};
  const px = y.ticks.map(t => y.getPixelForValue(t.value));
  const L = Math.abs(px[1] - px[0]);
  const first = Math.min(...px) - ch.chartArea.top - 1;
  return {L, off: (L - (first % L)) % L};
}

panels.forEach((p, idx) => {
  const isLast = idx === panels.length - 1;
  const cTop = Math.floor(p.top) - MARGIN;
  const cBottom = isLast ? PAGE_H : Math.ceil(p.bottom) + MARGIN;
  const h = cBottom - cTop;
  const topGap = p.top - cTop, bottomGap = cBottom - p.bottom;
  const cv = document.createElement('canvas');
  cv.width = PAGE_W; cv.height = h;
  cv.style.top = cTop + 'px';
  cv.style.width = PAGE_W + 'px';
  cv.style.height = h + 'px';
  document.body.appendChild(cv);
  const yTicks = p.major.concat(p.minor).sort((a, b) => a - b);

  new Chart(cv, {
    type: 'line',
    data: {datasets: [{
      data: p.points, borderColor: p.color, borderWidth: p.width,
      pointRadius: 0, pointHoverRadius: 0, tension: 0, fill: false,
      borderJoinStyle: 'round', borderCapStyle: 'round',
      parsing: false, normalized: true, spanGaps: true,
      xAxisID: 'x', yAxisID: 'y'
    }]},
    options: {
      responsive: false, animation: false, devicePixelRatio: 1, events: [],
      layout: {padding: 0, autoPadding: false},
      plugins: {
        legend: {display: false},
        tooltip: {enabled: false},
        title: {display: true, text: p.title, position: 'left', align: 'center', color: '#000000',
                font: {family: FONT, size: 40, weight: 'normal'}, padding: {top: 4, bottom: 0}}
      },
      scales: {
        x: {
          type: 'linear', position: 'bottom', min: X_MIN, max: X_MAX, bounds: 'data',
          afterBuildTicks: (s) => { s.ticks = allXTicks.map(v => ({value: v})); },
          afterFit: (s) => { s.height = bottomGap; },
          ticks: {display: isLast, autoSkip: false, maxRotation: 0, minRotation: 0, padding: 7, color: '#000000',
                  font: {family: FONT, size: 44},
                  callback: (v) => { const k = majorSeconds.indexOf(v); return k >= 0 ? timeLabels[k] : ''; }},
          grid: {display: true, drawOnChartArea: true, drawTicks: isLast, tickLength: 15, tickWidth: 2, tickColor: '#7a7a7a',
                 color: 'rgba(110,225,110,0.45)', lineWidth: 1.5,
                 tickBorderDash: (ctx) => (ctx.tick && majorSeconds.includes(ctx.tick.value)) ? [] : [6, 40]},
          border: {display: true, color: '#5a5a5a', width: 2,
                   dash: (ctx) => { const d = gridDots(ctx); return [2, Math.max(1, d.L - 2)]; },
                   dashOffset: (ctx) => gridDots(ctx).off}
        },
        xTop: {
          type: 'linear', position: 'top', min: 0, max: 1, display: true,
          grid: {display: false, drawTicks: false}, border: {display: false}, ticks: {display: false},
          afterFit: (s) => { s.height = topGap; }
        },
        y: {
          type: 'linear', position: 'left', min: p.min, max: p.max, bounds: 'data',
          afterBuildTicks: (s) => { s.ticks = yTicks.map(v => ({value: v})); },
          afterFit: (s) => { s.width = PLOT_LEFT - TITLE_BOX; },
          ticks: {autoSkip: false, padding: 7, color: '#000000', font: {family: FONT, size: 42},
                  callback: (v) => p.major.includes(v) ? String(v) : ''},
          grid: {drawOnChartArea: false, drawTicks: true, tickLength: 4, tickWidth: 1.5, tickColor: '#333333'},
          border: {display: true, color: '#333333', width: 1.5}
        }
      }
    }
  });
});
</script>
</body>
</html>
